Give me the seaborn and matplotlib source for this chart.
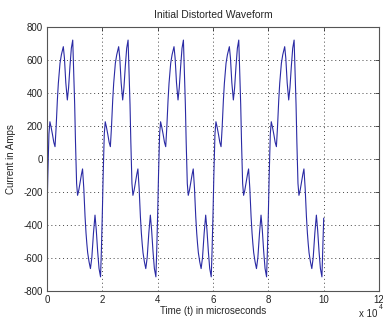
import numpy as np
import pandas as pd
import matplotlib
matplotlib.use("Agg")
import matplotlib.pyplot as plt
import seaborn as sns

# one period of the waveform (time in microseconds, current in amps)
cycle_time_us = [0, 300, 700, 1050, 1500, 2000, 2450, 2900, 3300, 3750, 4100, 4400, 4700,
                 5200, 5900, 6300, 6800, 7350, 7800, 8300, 8800, 9300, 9600,
                 10000, 10300, 10700, 11050, 11500, 12000, 12450, 12850, 13300, 13750, 14100,
                 14400, 14700, 15200, 15700, 16200, 16800, 17350, 17800, 18300, 18800, 19350, 19650]
cycle_current_a = [-330, -100, 150, 224, 190, 145, 100, 73, 190, 356, 457, 520, 578,
                   630, 679, 610, 460, 356, 430, 560, 670, 719, 560,
                   330, 100, -150, -222, -190, -140, -95, -62, -180, -350, -450,
                   -515, -570, -625, -666, -600, -450, -342, -430, -560, -665, -716, -560]
period_us = 20000
n_cycles = 5
end_time_us = 100000
end_current_a = -360

x_ticks = [0, 20000, 40000, 60000, 80000, 100000, 120000]
x_tick_labels = ["0", "2", "4", "6", "8", "10", "12"]
y_ticks = [-800, -600, -400, -200, 0, 200, 400, 600, 800]

# the five cycles in the plot look identical, so the read period is laid end to end
time_us = []
current_a = []
for k in range(n_cycles):
    time_us += [t + k * period_us for t in cycle_time_us]
    current_a += cycle_current_a
time_us.append(end_time_us)
current_a.append(end_current_a)
df = pd.DataFrame({"time": time_us, "current": current_a})

sns.set_style("white")
plt.rcParams["font.family"] = ["Liberation Sans", "DejaVu Sans"]
plt.rcParams["font.size"] = 7

fig = plt.figure(figsize=(3.83, 3.21), dpi=100)
ax = fig.add_axes([0.1227, 0.0944, 0.867, 0.8224])

sns.lineplot(data=df, x="time", y="current", ax=ax, color="#2a2aa4",
             linewidth=0.8, estimator=None, sort=False)

ax.set_xlim(0, 120000)
ax.set_ylim(-800, 800)
ax.set_xticks(x_ticks)
ax.set_xticklabels(x_tick_labels)
ax.set_yticks(y_ticks)
ax.set_yticklabels([str(v) for v in y_ticks])
ax.grid(True, linestyle=(0, (1, 3)), color="#444444", linewidth=0.7)
ax.tick_params(direction="in", length=3, width=0.6, top=True, right=True,
               labelsize=7, pad=3, colors="#333333", labelcolor="#222222")
for s in ax.spines.values():
    s.set_color("#555555")
    s.set_linewidth(0.8)

ax.set_title("Initial Distorted Waveform", fontsize=7.5, pad=6)
ax.set_xlabel("Time (t) in microseconds", fontsize=7, labelpad=1)
ax.set_ylabel("Current in Amps", fontsize=7, labelpad=5)

# MATLAB-style exponent under the x axis
fig.text(0.938, 0.006, "x 10", fontsize=7, ha="left", va="bottom")
fig.text(0.989, 0.030, "4", fontsize=5, ha="left", va="bottom")

fig.savefig("out.png", dpi=100, facecolor="white")
